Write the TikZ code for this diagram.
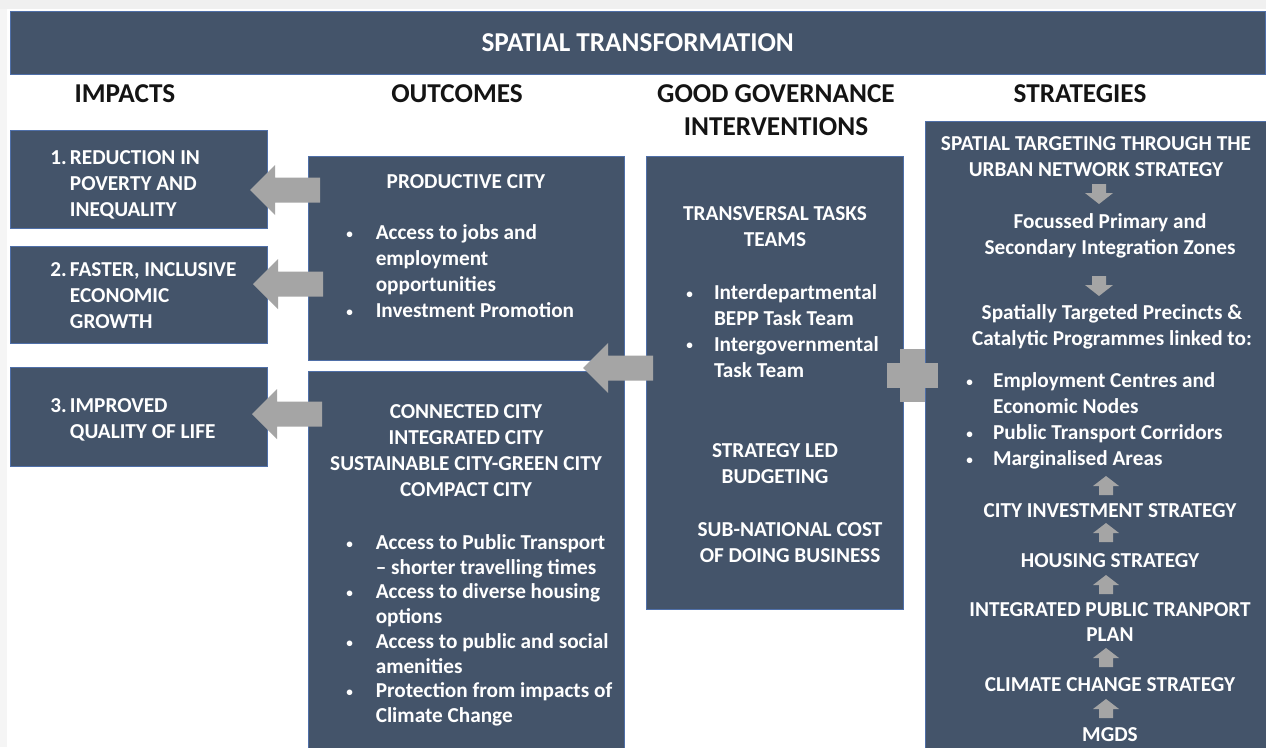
\documentclass[tikz,border=0pt]{standalone}
\usepackage{fontspec}
\setmainfont{Carlito}
\usetikzlibrary{positioning}

\definecolor{slate}{HTML}{44546A}
\definecolor{arrowgrey}{HTML}{A5A5A5}
\definecolor{edgeblue}{HTML}{4F6FA8}

% small bullet
\newcommand{\bul}{\raisebox{0.12ex}{\scalebox{0.62}{\textbullet}}}
% bullet list: gap, rows
\newcommand{\blist}[2]{\begin{tabular}{@{}l@{\hspace{#1}}l@{}}#2\end{tabular}}
% block arrow pointing left, tip at (#1,#2)
\newcommand{\leftblock}[2]{\fill[arrowgrey] (#1,#2) -- ++(25,-25) -- ++(0,12.5) -- ++(45,0) -- ++(0,25) -- ++(-45,0) -- ++(0,12.5) -- cycle;}
% small arrows in the strategies panel, tip at (#1,#2)
\newcommand{\downblock}[2]{\fill[arrowgrey] (#1,#2) -- ++(-14,-11) -- ++(7,0) -- ++(0,-9) -- ++(14,0) -- ++(0,9) -- ++(7,0) -- cycle;}
\newcommand{\upblock}[2]{\fill[arrowgrey] (#1,#2) -- ++(-13,10) -- ++(6,0) -- ++(0,9) -- ++(14,0) -- ++(0,-9) -- ++(6,0) -- cycle;}

\begin{document}
\begin{tikzpicture}[x=0.02cm,y=-0.02cm,
  panel/.style={fill=slate,draw=edgeblue,line width=0.4pt,anchor=north west,inner sep=0pt},
  txt/.style={text=white,font=\bfseries\fontsize{12.1}{14.74}\selectfont,align=center,inner sep=0pt},
  lst/.style={text=white,font=\bfseries\fontsize{12.1}{14.74}\selectfont,anchor=west,inner sep=0pt},
  head/.style={text=black!92,font=\bfseries\fontsize{15.5}{18.7}\selectfont,align=center,inner sep=0pt}]

\useasboundingbox (0,0) rectangle (1266,747);
\fill[white] (0,0) rectangle (1266,747);
\fill[black!6] (0,0) rectangle (1266,9);
\fill[black!4] (0,9) rectangle (7,747);

% Title
\node[panel,minimum width=25.1cm,minimum height=1.26cm,text=white,
  font=\bfseries\fontsize{15.5}{18.7}\selectfont] (title) at (10,11) {SPATIAL TRANSFORMATION};

% Column headings
\node[head] (hImp) at (125,94) {IMPACTS};
\node[head] (hOut) at (457,94) {OUTCOMES};
\node[head] (hGov) at (776,110.5) {GOOD GOVERNANCE\\INTERVENTIONS};
\node[head] (hStr) at (1080,94) {STRATEGIES};

% Impacts
\node[panel,minimum width=5.14cm,minimum height=1.96cm] (imp1) at (10,130) {};
\node[panel,minimum width=5.14cm,minimum height=1.94cm] (imp2) at (10,246) {};
\node[panel,minimum width=5.14cm,minimum height=1.98cm] (imp3) at (10,367) {};
\node[lst] (impT1) at (50,185) {\blist{1.8pt}{1. & REDUCTION IN\\ & POVERTY AND\\ & INEQUALITY}};
\node[lst] (impT2) at (50,297.5) {\blist{1.8pt}{2. & FASTER, INCLUSIVE\\ & ECONOMIC\\ & GROWTH}};
\node[lst] (impT3) at (50,420.5) {\blist{1.8pt}{3. & IMPROVED\\ & QUALITY OF LIFE}};

% Outcomes
\node[panel,minimum width=6.32cm,minimum height=4.08cm] (prod) at (308,156) {};
\node[panel,minimum width=6.32cm,minimum height=7.6cm] (conn) at (308,371) {};
\node[txt] (prodT) at (466,182) {PRODUCTIVE CITY};
\node[lst] (prodL) at (346,273.5) {\blist{13pt}{\bul & Access to jobs and\\ & employment\\ & opportunities\\ \bul & Investment Promotion}};
\node[txt] (connT) at (466,450.5) {CONNECTED CITY\\INTEGRATED CITY\\SUSTAINABLE CITY-GREEN CITY\\COMPACT CITY};
\node[lst,font=\bfseries\fontsize{12.1}{14.1}\selectfont] (connL) at (346,631) {\blist{13pt}{\bul & Access to Public Transport\\ & -- shorter travelling times\\
  \bul & Access to diverse housing\\ & options\\ \bul & Access to public and social\\ & amenities\\
  \bul & Protection from impacts of\\ & Climate Change}};

% Good governance
\node[panel,minimum width=5.14cm,minimum height=9.06cm] (gov) at (646,156) {};
\node[txt] (govT1) at (775,227) {TRANSVERSAL TASKS\\TEAMS};
\node[lst] (govL) at (686,333) {\blist{12pt}{\bul & Interdepartmental\\ & BEPP Task Team\\ \bul & Intergovernmental\\ & Task Team}};
\node[txt] (govT2) at (775,464) {STRATEGY LED\\BUDGETING};
\node[txt] (govT3) at (790,543) {SUB-NATIONAL COST\\OF DOING BUSINESS};

% Strategies
\node[panel,minimum width=6.9cm,minimum height=12.6cm] (strat) at (925,121) {};
\node[txt] (s1) at (1096,157) {SPATIAL TARGETING THROUGH THE\\URBAN NETWORK STRATEGY};
\node[txt] (s2) at (1110,236) {Focussed Primary and\\Secondary Integration Zones};
\node[txt] (s3) at (1112,327) {Spatially Targeted Precincts \&\\Catalytic Programmes linked to:};
\node[lst] (sL) at (966,421.5) {\blist{11.5pt}{\bul & Employment Centres and\\ & Economic Nodes\\ \bul & Public Transport Corridors\\ \bul & Marginalised Areas}};
\node[txt] (s4) at (1110,511) {CITY INVESTMENT STRATEGY};
\node[txt] (s5) at (1110,561) {HOUSING STRATEGY};
\node[txt] (s6) at (1110,622) {INTEGRATED PUBLIC TRANPORT\\PLAN};
\node[txt] (s7) at (1110,685) {CLIMATE CHANGE STRATEGY};
\node[txt] (s8) at (1110,735) {MGDS};

% Arrows
\leftblock{250}{190}
\leftblock{253}{284}
\leftblock{252}{414}
\leftblock{583}{368}
\downblock{1099}{204}
\downblock{1099}{296}
\foreach \y in {476,523,575,648,699} {
  \upblock{1106}{\y}
}

% Plus
\fill[arrowgrey] (900,349) rectangle (925,402);
\fill[arrowgrey] (887,363) rectangle (938,388);

\end{tikzpicture}
\end{document}
